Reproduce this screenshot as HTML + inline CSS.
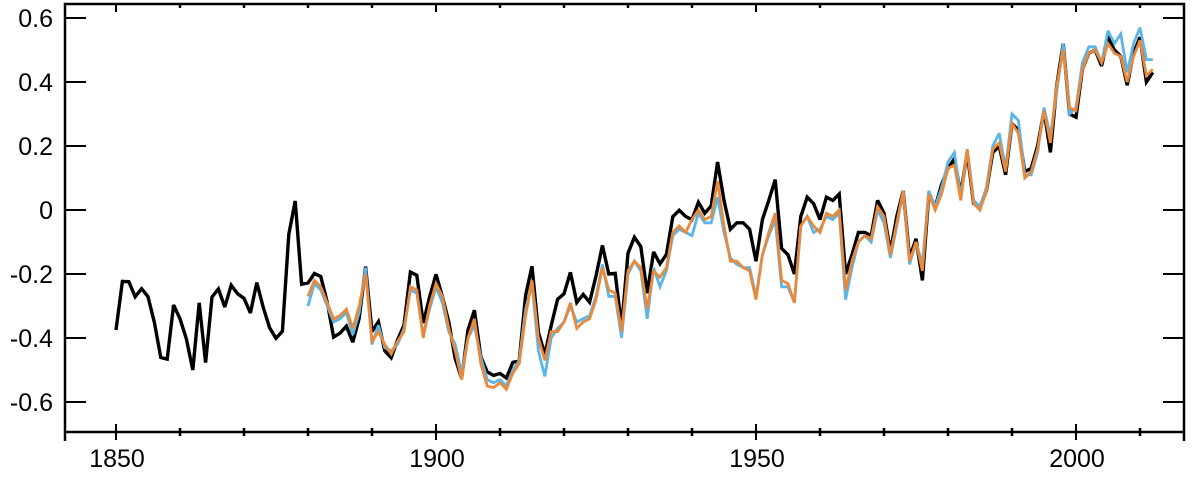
<!DOCTYPE html>
<html><head><meta charset="utf-8"><style>
html,body{margin:0;padding:0;background:#fff;}
svg{display:block;font-family:"Liberation Sans",sans-serif;}
</style></head><body>
<svg id="chart" width="1200" height="484" viewBox="0 0 1200 484" xmlns="http://www.w3.org/2000/svg">
<g id="axes"></g>
<g id="series"></g>
</svg>
<script>
const yearsBlackStart = 1850;
const yearsColorStart = 1880;
const blackValues = [-0.375,-0.223,-0.224,-0.271,-0.246,-0.271,-0.352,-0.461,-0.466,-0.297,-0.340,-0.403,-0.500,-0.290,-0.477,-0.272,-0.247,-0.303,-0.235,-0.262,-0.276,-0.322,-0.227,-0.304,-0.368,-0.401,-0.379,-0.076,0.028,-0.232,
-0.228,-0.198,-0.208,-0.288,-0.397,-0.385,-0.363,-0.413,-0.338,-0.177,-0.380,-0.349,-0.440,-0.462,-0.406,-0.360,-0.194,-0.204,-0.353,-0.272,
-0.201,-0.271,-0.350,-0.464,-0.526,-0.375,-0.313,-0.458,-0.506,-0.517,-0.511,-0.525,-0.476,-0.472,-0.267,-0.176,-0.382,-0.452,-0.361,-0.279,
-0.262,-0.195,-0.289,-0.264,-0.288,-0.206,-0.111,-0.200,-0.198,-0.365,-0.135,-0.085,-0.114,-0.260,-0.131,-0.168,-0.139,-0.021,-0.001,-0.020,
-0.030,0.024,-0.010,0.013,0.150,0.030,-0.060,-0.040,-0.040,-0.060,-0.160,-0.030,0.030,0.095,-0.120,-0.140,-0.200,-0.020,0.040,0.020,
-0.030,0.040,0.030,0.050,-0.200,-0.140,-0.070,-0.070,-0.080,0.030,-0.010,-0.130,-0.020,0.060,-0.150,-0.090,-0.220,0.050,0.010,0.080,
0.130,0.160,0.050,0.180,0.020,0.010,0.060,0.180,0.200,0.110,0.270,0.250,0.120,0.130,0.200,0.310,0.180,0.390,0.520,0.300,
0.290,0.440,0.490,0.500,0.450,0.540,0.500,0.480,0.390,0.490,0.540,0.400,0.430];
const orangeValues = [-0.27,-0.22,-0.24,-0.29,-0.34,-0.33,-0.31,-0.37,-0.30,-0.20,-0.41,-0.38,-0.42,-0.45,-0.41,-0.38,-0.24,-0.25,-0.40,-0.30,
-0.23,-0.27,-0.37,-0.44,-0.53,-0.40,-0.34,-0.48,-0.55,-0.555,-0.54,-0.56,-0.51,-0.48,-0.33,-0.22,-0.40,-0.47,-0.38,-0.38,
-0.35,-0.29,-0.37,-0.35,-0.34,-0.28,-0.18,-0.25,-0.26,-0.38,-0.19,-0.16,-0.18,-0.31,-0.19,-0.21,-0.18,-0.07,-0.05,-0.07,
-0.03,0.00,-0.03,-0.02,0.09,-0.05,-0.16,-0.16,-0.18,-0.19,-0.28,-0.14,-0.07,-0.01,-0.22,-0.23,-0.29,-0.05,-0.02,-0.05,
-0.07,-0.01,-0.02,0.00,-0.25,-0.16,-0.10,-0.08,-0.09,0.01,-0.02,-0.14,-0.04,0.06,-0.16,-0.10,-0.19,0.05,0.00,0.05,
0.13,0.14,0.03,0.19,0.02,0.00,0.06,0.19,0.21,0.12,0.27,0.24,0.10,0.12,0.19,0.31,0.21,0.39,0.50,0.32,
0.31,0.44,0.49,0.50,0.46,0.52,0.49,0.48,0.40,0.48,0.53,0.42,0.44];
const blueValues = [-0.30,-0.23,-0.25,-0.30,-0.35,-0.34,-0.32,-0.39,-0.32,-0.18,-0.42,-0.36,-0.43,-0.44,-0.42,-0.37,-0.25,-0.26,-0.39,-0.31,
-0.24,-0.29,-0.38,-0.42,-0.51,-0.40,-0.36,-0.46,-0.53,-0.54,-0.53,-0.55,-0.50,-0.47,-0.31,-0.23,-0.44,-0.52,-0.40,-0.37,
-0.35,-0.30,-0.35,-0.34,-0.33,-0.27,-0.17,-0.27,-0.27,-0.40,-0.20,-0.16,-0.19,-0.34,-0.18,-0.24,-0.19,-0.08,-0.06,-0.07,
-0.08,-0.01,-0.04,-0.04,0.04,-0.07,-0.15,-0.17,-0.18,-0.18,-0.27,-0.14,-0.08,-0.03,-0.24,-0.24,-0.29,-0.05,-0.02,-0.07,
-0.06,-0.02,-0.03,-0.01,-0.28,-0.18,-0.10,-0.08,-0.10,0.00,-0.04,-0.15,-0.05,0.06,-0.17,-0.10,-0.17,0.06,0.01,0.07,
0.15,0.18,0.04,0.19,0.03,0.01,0.07,0.20,0.24,0.13,0.30,0.28,0.11,0.11,0.18,0.32,0.23,0.37,0.52,0.30,
0.32,0.46,0.51,0.51,0.46,0.56,0.52,0.55,0.43,0.52,0.57,0.47,0.47];
const yTickValues = [0.6,0.4,0.2,0,-0.2,-0.4,-0.6];
const yTickLabels = ["0.6","0.4","0.2","0","-0.2","-0.4","-0.6"];
const xMajorTicks = [1850,1900,1950,2000];
const xMinorTicks = [1860,1870,1880,1890,1910,1920,1930,1940,1960,1970,1980,1990,2010];

const NS="http://www.w3.org/2000/svg";
const L=65,R=1184,T=4,B=432;
function xs(yr){return 116+(yr-1850)*6.4;}
function ys(v){return 210-v*320;}
function mk(tag,attrs,parent){const e=document.createElementNS(NS,tag);for(const k in attrs)e.setAttribute(k,attrs[k]);parent.appendChild(e);return e;}
const ax=document.getElementById('axes');
const frame=mk('path',{d:`M${L} ${441}V${T}H${R}V${441}M${L} ${B}H${R}`,fill:'none',stroke:'#000','stroke-width':2.5},ax);


yTickValues.forEach((v,i)=>{
  const y=ys(v);
  const t1=mk('line',{x1:L,x2:L+21,y1:y,y2:y,stroke:'#000','stroke-width':2},ax);
  
  
  const t2=mk('line',{x1:R-21,x2:R,y1:y,y2:y,stroke:'#000','stroke-width':2},ax);
  
  
  const tx=mk('text',{x:53,y:y+9,'text-anchor':'end','font-size':25,fill:'#000'},ax);
  tx.textContent=yTickLabels[i];
  
  
});
xMajorTicks.forEach(yr=>{
  const x=xs(yr);
  const t=mk('line',{x1:x,x2:x,y1:B-8,y2:B+8,stroke:'#000','stroke-width':2},ax);
  
  
  const tt=mk('line',{x1:x,x2:x,y1:T,y2:T+8,stroke:'#000','stroke-width':2},ax);
  
  
  const tx=mk('text',{x:x+1,y:467,'text-anchor':'middle','font-size':25,fill:'#000'},ax);
  tx.textContent=String(yr);
  
  
});
xMinorTicks.forEach(yr=>{
  const x=xs(yr);
  const t=mk('line',{x1:x,x2:x,y1:B-4,y2:B+4,stroke:'#000','stroke-width':2.5},ax);
  
  
  const tt=mk('line',{x1:x,x2:x,y1:T,y2:T+4,stroke:'#000','stroke-width':2.5},ax);
  
  
});
const sg=document.getElementById('series');
function line(vals,start,color,w,name){
  const d=vals.map((v,i)=>(i?'L':'M')+xs(start+i).toFixed(1)+' '+ys(v).toFixed(1)).join('');
  const p=mk('path',{d:d,fill:'none',stroke:color,'stroke-width':w,'stroke-linejoin':'miter','stroke-miterlimit':3},sg);
  
  
}
line(blackValues,yearsBlackStart,'#000',3.4,'black-series-line');
line(blueValues,yearsColorStart,'#5bb5e8',2.8,'blue-series-line');
line(orangeValues,yearsColorStart,'#e8893c',2.8,'orange-series-line');
</script>
</body></html>
